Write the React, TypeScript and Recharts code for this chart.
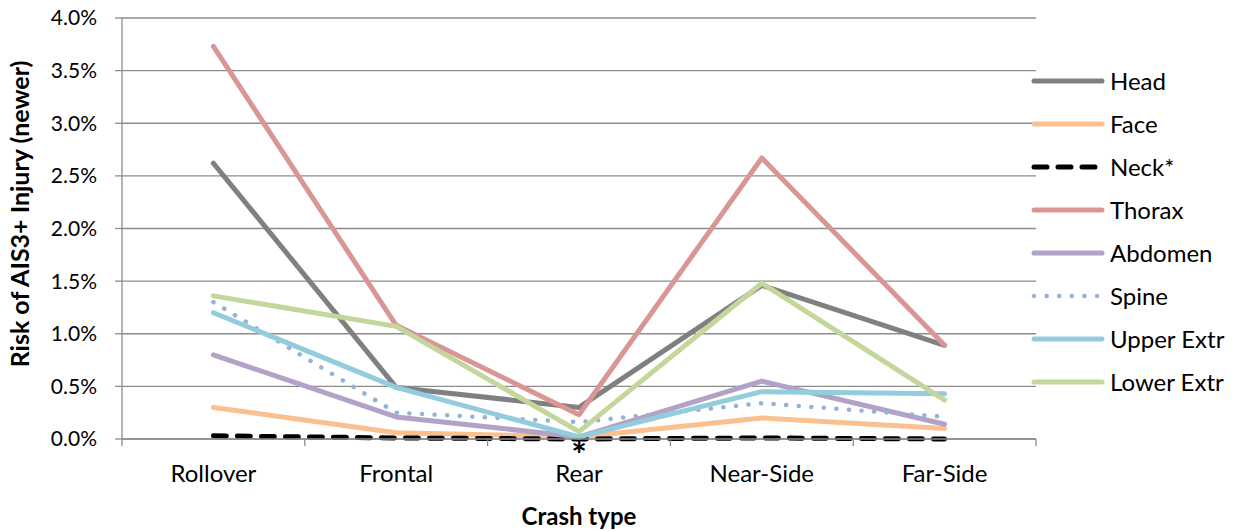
import React from "react";
import { LineChart, Line, XAxis, YAxis, CartesianGrid } from "recharts";

// crash types on the x axis
const crashTypes = ["Rollover", "Frontal", "Rear", "Near-Side", "Far-Side"];

// risk of AIS3+ injury, in percent
const head = [2.62, 0.49, 0.3, 1.46, 0.89];
const face = [0.3, 0.06, 0.02, 0.2, 0.1];
const neck = [0.03, 0.01, 0.0, 0.01, 0.0];
const thorax = [3.73, 1.08, 0.23, 2.67, 0.89];
const abdomen = [0.8, 0.21, 0.02, 0.55, 0.14];
const spine = [1.3, 0.25, 0.16, 0.34, 0.21];
const upperExtr = [1.2, 0.49, 0.02, 0.45, 0.43];
const lowerExtr = [1.36, 1.07, 0.07, 1.48, 0.37];

const neckNotes = ["", "", "*", "", ""];
const yTicks = [0, 0.5, 1, 1.5, 2, 2.5, 3, 3.5, 4];

const data = crashTypes.map((name, i) => ({
  name,
  head: head[i],
  face: face[i],
  neck: neck[i],
  thorax: thorax[i],
  abdomen: abdomen[i],
  spine: spine[i],
  upperExtr: upperExtr[i],
  lowerExtr: lowerExtr[i],
}));

const series = [
  { key: "head", label: "Head", color: "#808080" },
  { key: "face", label: "Face", color: "#FAC090" },
  { key: "neck", label: "Neck*", color: "#000000", dash: "13 11" },
  { key: "thorax", label: "Thorax", color: "#D99694" },
  { key: "abdomen", label: "Abdomen", color: "#B3A2C7" },
  { key: "spine", label: "Spine", color: "#95B3D7", dash: "0.1 12.5" },
  { key: "upperExtr", label: "Upper Extr", color: "#93CDDD" },
  { key: "lowerExtr", label: "Lower Extr", color: "#C3D69B" },
];

const FONT = "Lato, 'Liberation Sans', sans-serif";
const GRID = "#8c8c8c";
const HALF_BAND = 91.4;

const CategoryTick = (props: any) => {
  const { x, y, payload, index } = props;
  return (
    <g>
      <line x1={x - HALF_BAND} x2={x - HALF_BAND} y1={y - 8} y2={y - 1} stroke={GRID} strokeWidth={1.3} />
      {index === crashTypes.length - 1 && (
        <line x1={x + HALF_BAND} x2={x + HALF_BAND} y1={y - 8} y2={y - 1} stroke={GRID} strokeWidth={1.3} />
      )}
      <text x={x} y={y + 35} textAnchor="middle" fontSize={24} fontFamily={FONT} fill="#000">
        {payload.value}
      </text>
    </g>
  );
};

const NeckNote = (props: any) => {
  const { x, y, index } = props;
  const note = neckNotes[index];
  if (!note) return null;
  return (
    <text x={x} y={y + 29} textAnchor="middle" fontSize={37} fontWeight="bold" fontFamily={FONT} fill="#000">
      {note}
    </text>
  );
};

const YTitle = () => (
  <text
    x={19}
    y={214}
    transform="rotate(-90 19 214)"
    textAnchor="middle"
    dominantBaseline="central"
    fontSize={25}
    fontWeight="bold"
    fontFamily={FONT}
    fill="#000"
  >
    Risk of AIS3+ Injury (newer)
  </text>
);

const LegendBox = () => (
  <div style={{ position: "absolute", left: 1030, top: 60 }}>
    {series.map((s) => (
      <div key={s.key} style={{ display: "flex", alignItems: "center", height: 42.9 }}>
        <svg width={76} height={10}>
          <line
            x1={4}
            x2={s.dash === "13 11" ? 68 : 72}
            y1={5}
            y2={5}
            stroke={s.color}
            strokeWidth={s.dash === "0.1 12.5" ? 4.5 : 5}
            strokeDasharray={s.dash}
            strokeLinecap="round"
          />
        </svg>
        <span style={{ fontFamily: FONT, fontSize: 24, marginLeft: 4, color: "#000", lineHeight: 1 }}>
          {s.label}
        </span>
      </div>
    ))}
  </div>
);

export default function App() {
  return (
    <div style={{ position: "absolute", left: 0, top: 0, width: 1237, height: 531, background: "#fff" }}>
      <LineChart
        width={1237}
        height={531}
        data={data}
        margin={{ top: 18, right: 201, left: 0, bottom: 0 }}
      >
        <CartesianGrid vertical={false} stroke={GRID} strokeWidth={1.3} />
        <XAxis
          dataKey="name"
          height={92}
          padding={{ left: HALF_BAND, right: HALF_BAND }}
          axisLine={{ stroke: GRID, strokeWidth: 1.3 }}
          tickLine={false}
          tick={<CategoryTick />}
          interval={0}
          label={{
            value: "Crash type",
            position: "insideBottom",
            offset: 6,
            style: { fontFamily: FONT, fontSize: 24, fontWeight: "bold", fill: "#000" },
          }}
        />
        <YAxis
          width={122}
          domain={[0, 4]}
          ticks={yTicks}
          interval={0}
          tickSize={7}
          tickMargin={18}
          axisLine={{ stroke: GRID, strokeWidth: 1.3 }}
          tickLine={{ stroke: GRID, strokeWidth: 1.3 }}
          tick={{ fontFamily: FONT, fontSize: 21, fill: "#000" }}
          tickFormatter={(v: number) => `${v.toFixed(1)}%`}
          label={<YTitle />}
        />
        {series.map((s) => (
          <Line
            key={s.key}
            type="linear"
            dataKey={s.key}
            stroke={s.color}
            strokeWidth={s.key === "spine" ? 4.5 : 5}
            strokeDasharray={s.dash}
            strokeLinecap="round"
            strokeLinejoin="round"
            dot={false}
            activeDot={false}
            isAnimationActive={false}
            label={s.key === "neck" ? <NeckNote /> : undefined}
          />
        ))}
      </LineChart>
      <LegendBox />
    </div>
  );
}
